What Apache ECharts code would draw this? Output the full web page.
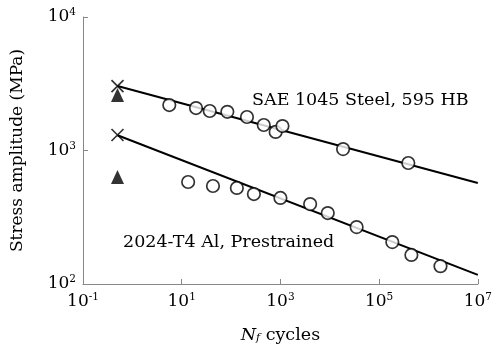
<!DOCTYPE html>
<html>
<head>
<meta charset="utf-8">
<script src="https://cdn.jsdelivr.net/npm/echarts@6/dist/echarts.min.js"></script>
<style>
  html, body { margin: 0; padding: 0; background: #fff; }
  #chart { width: 495px; height: 350px; }
</style>
</head>
<body>
<div id="chart"></div>
<script>
// SAE 1045 steel, 595 HB
const steelCycles = [5.6, 19.5, 37, 84, 210, 460, 800, 1100, 18600, 390000];
const steelStress = [2190, 2080, 1976, 1950, 1782, 1553, 1377, 1525, 1025, 806];
const steelCross = [[0.5, 3040]];
const steelTri = [[0.5, 2600]];
const steelFit = [[0.5, 3040], [1e7, 571]];

// 2024-T4 Al, prestrained
const alCycles = [13.5, 43, 131, 290, 1000, 4000, 9100, 35000, 185000, 450000, 1750000];
const alStress = [581, 542, 524, 472, 441, 397, 340, 267, 206, 165, 136];
const alCross = [[0.5, 1307]];
const alTri = [[0.5, 632]];
const alFit = [[0.5, 1300], [1e7, 117]];

const xLabelValues = [0.1, 10, 1000, 1e5, 1e7];
const xTickValues = [10, 1000, 1e5, 1e7];

const FONT = 'DejaVu Serif';
const INK = '#000';

function powLabel(v) {
    const e = Math.round(Math.log10(v));
    return '{b|10}{s|' + e + '}';
}
const richPow = {
    b: { fontFamily: FONT, fontSize: 17, color: INK },
    s: { fontFamily: FONT, fontSize: 10.5, color: INK, padding: [0, 0, 9, 0] }
};

const xSym = 'path://M0,0L10,10M10,0L0,10';

const chart = echarts.init(document.getElementById('chart'));
chart.setOption({
    animation: false,
    grid: { left: 83, right: 14, top: 17, bottom: 66 },
    xAxis: {
        type: 'log',
        logBase: 10,
        min: 0.1,
        max: 1e7,
        name: '{i|N}{f|f}{c| cycles}',
        nameLocation: 'middle',
        nameGap: 42,
        nameTextStyle: {
            rich: {
                i: { fontFamily: FONT, fontSize: 17.5, fontStyle: 'italic', color: INK },
                f: { fontFamily: FONT, fontSize: 11, fontStyle: 'italic', color: INK, padding: [6, 0, 0, 0] },
                c: { fontFamily: FONT, fontSize: 17.5, color: INK }
            }
        },
        axisLine: { lineStyle: { color: '#888', width: 1 } },
        axisTick: { inside: true, length: 5, lineStyle: { color: '#888' }, customValues: xTickValues },
        axisLabel: { margin: 8, formatter: powLabel, rich: richPow, customValues: xLabelValues },
        splitLine: { show: false },
        minorTick: { show: false }
    },
    yAxis: {
        type: 'log',
        logBase: 10,
        min: 100,
        max: 10000,
        name: 'Stress amplitude (MPa)',
        nameLocation: 'middle',
        nameGap: 57,
        nameTextStyle: { fontFamily: FONT, fontSize: 17, color: INK },
        axisLine: { show: true, lineStyle: { color: '#888', width: 1 } },
        axisTick: { show: true, inside: true, length: 5, lineStyle: { color: '#888' } },
        axisLabel: { margin: 7, formatter: powLabel, rich: richPow },
        splitLine: { show: false }
    },
    series: [
        { type: 'line', data: steelFit, showSymbol: false, lineStyle: { color: '#000', width: 2 }, z: 1 },
        { type: 'line', data: alFit, showSymbol: false, lineStyle: { color: '#000', width: 2 }, z: 1 },
        {
            type: 'scatter', symbol: 'circle', symbolSize: 12.5,
            data: steelCycles.map((n, i) => [n, steelStress[i]]),
            itemStyle: { color: '#fff', borderColor: '#000', borderWidth: 1.7 }, z: 3
        },
        {
            type: 'scatter', symbol: 'circle', symbolSize: 12.5,
            data: alCycles.map((n, i) => [n, alStress[i]]),
            itemStyle: { color: '#fff', borderColor: '#000', borderWidth: 1.7 }, z: 3
        },
        {
            type: 'scatter', symbol: 'triangle', symbolSize: [13, 14],
            data: steelTri.concat(alTri),
            itemStyle: { color: '#000' }, z: 3
        },
        {
            type: 'scatter', symbol: xSym, symbolSize: 12,
            data: steelCross.concat(alCross),
            itemStyle: { color: 'none', borderColor: '#000', borderWidth: 1.7 }, z: 4
        }
    ],
    graphic: [
        { type: 'text', left: 252, top: 91, style: { text: 'SAE 1045 Steel, 595 HB', fontFamily: FONT, fontSize: 17.5, fill: INK } },
        { type: 'text', left: 123, top: 233, style: { text: '2024-T4 Al, Prestrained', fontFamily: FONT, fontSize: 17.5, fill: INK } }
    ]
});
</script>
</body>
</html>
